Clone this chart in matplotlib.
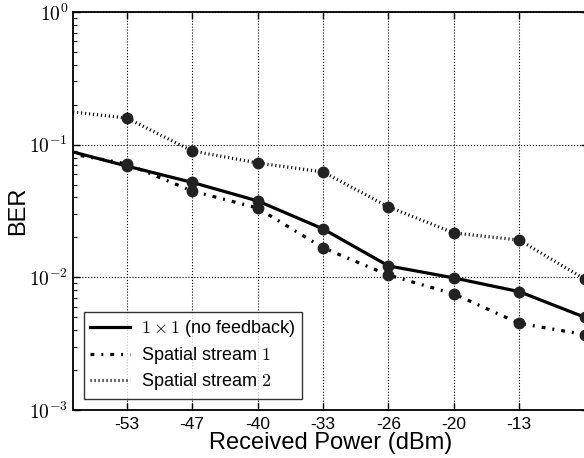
import matplotlib
matplotlib.use('Agg')
import matplotlib.pyplot as plt
import numpy as np

plt.rcParams['font.family'] = ['Liberation Sans', 'DejaVu Sans']
plt.rcParams['mathtext.fontset'] = 'cm'

# x positions are evenly spaced sample indices; ticks label the inner ones
x_idx = [0, 1, 2, 3, 4, 5, 6, 7, 8]
tick_pos = [1, 2, 3, 4, 5, 6, 7]
tick_labels = ['-53', '-47', '-40', '-33', '-26', '-20', '-13']

ber_1x1 = [0.093, 0.069, 0.052, 0.0377, 0.0232, 0.0122, 0.0099, 0.0078, 0.0050]
ber_stream1 = [0.088, 0.0716, 0.0448, 0.0333, 0.0167, 0.0104, 0.0075, 0.0045, 0.0037]
ber_stream2 = [0.18, 0.159, 0.0897, 0.0728, 0.0623, 0.034, 0.0216, 0.0191, 0.0097]

fig = plt.figure(figsize=(5.84, 4.58), dpi=100)
ax = fig.add_axes([73 / 584, 48 / 458, (588 - 73) / 584, 398 / 458])

ax.plot(x_idx, ber_1x1, 'k-', lw=2.3, label=r'$1\times1$ (no feedback)')
ax.plot(x_idx, ber_stream1, 'k', lw=2.3, linestyle=(0, (1.2, 2.2, 0.6, 2.2)),
        label=r'Spatial stream $1$')
ax.plot(x_idx, ber_stream2, 'k', lw=2.3, linestyle=(0, (0.35, 0.9)),
        label=r'Spatial stream $2$')
for series in [ber_1x1, ber_stream1, ber_stream2]:
    ax.plot(x_idx, series, 'o', color='#222222', ms=7.5, zorder=3)

ax.set_yscale('log')
ax.set_ylim(1e-3, 1)
ax.set_xlim(0.18, 8.05)
ax.set_xticks(tick_pos)
ax.set_xticklabels(tick_labels, fontsize=12.5)
ax.set_yticks([1e-3, 1e-2, 1e-1, 1])
ax.set_yticklabels([r'$10^{-3}$', r'$10^{-2}$', r'$10^{-1}$', r'$10^{0}$'], fontsize=14)
ax.tick_params(which='both', direction='in', top=True, right=True)
ax.tick_params(which='major', length=5, width=1)
ax.tick_params(axis='x', which='major', pad=5)
ax.tick_params(which='minor', length=3, width=0.8)
ax.grid(True, which='major', linestyle=':', color='k', lw=0.8)

for s in ax.spines.values():
    s.set_linewidth(1.3)

ax.set_xlabel('Received Power (dBm)', fontsize=17, labelpad=0)
ax.set_ylabel('BER', fontsize=17, labelpad=0)

leg = ax.legend(loc='lower left', bbox_to_anchor=(0.01, 0.015), fontsize=13,
                handlelength=2.2, handletextpad=0.65, frameon=True, fancybox=False,
                borderpad=0.35, labelspacing=0.3, borderaxespad=0.3)
leg.get_frame().set_edgecolor('k')
leg.get_frame().set_linewidth(1.0)

fig.savefig('out.png', dpi=100)
